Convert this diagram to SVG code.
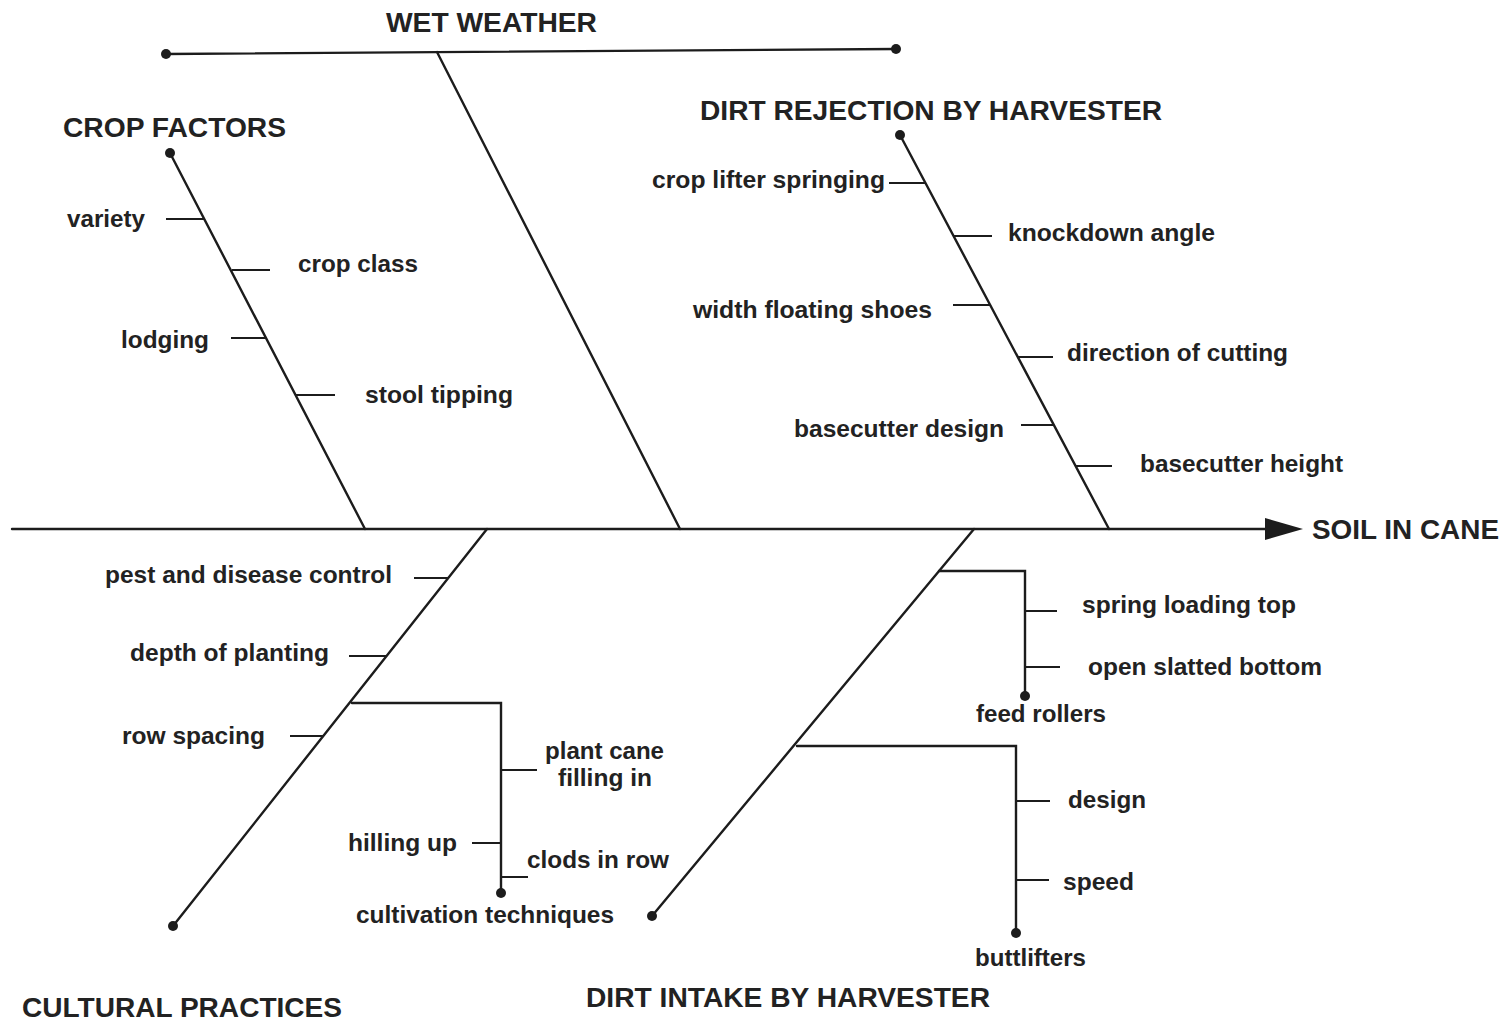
<svg xmlns="http://www.w3.org/2000/svg" width="1506" height="1024" viewBox="0 0 1506 1024">
<style>
.ln{stroke:#1c1c1c;stroke-width:2.4;fill:none;stroke-linecap:round}
.tk{stroke:#1c1c1c;stroke-width:2;fill:none}
.dot{fill:#1c1c1c}
.t{font-family:"Liberation Sans",Arial,sans-serif;font-weight:bold;fill:#222;font-size:24px}
.h{font-family:"Liberation Sans",Arial,sans-serif;font-weight:bold;fill:#222;font-size:27px}
</style>
<rect width="1506" height="1024" fill="#fff"/>
<g id="connectors">
  <line class="ln" x1="12" y1="529" x2="1268" y2="529"/>
  <polygon class="dot" points="1265,518 1303,529 1265,540"/>
</g>
<g id="soil-in-cane">
  <text class="h" x="1312" y="539" textLength="187" lengthAdjust="spacingAndGlyphs">SOIL IN CANE</text>
</g>
<g id="wet-weather">
  <line class="ln" x1="166" y1="54" x2="896" y2="49"/>
  <circle class="dot" cx="166" cy="54" r="5"/>
  <circle class="dot" cx="896" cy="49" r="5"/>
  <line class="ln" x1="437" y1="52" x2="680" y2="529"/>
  <text class="h" x="386" y="32" textLength="211" lengthAdjust="spacingAndGlyphs">WET WEATHER</text>
</g>
<g id="crop-factors">
  <line class="ln" x1="170" y1="153" x2="365" y2="529"/>
  <circle class="dot" cx="170" cy="153" r="5"/>
  <text class="h" x="63" y="137" textLength="223" lengthAdjust="spacingAndGlyphs">CROP FACTORS</text>
  <line class="tk" x1="166" y1="219" x2="204" y2="219"/>
  <text class="t" x="67" y="227" textLength="78" lengthAdjust="spacingAndGlyphs">variety</text>
  <line class="tk" x1="232" y1="270" x2="270" y2="270"/>
  <text class="t" x="298" y="272" textLength="120" lengthAdjust="spacingAndGlyphs">crop class</text>
  <line class="tk" x1="231" y1="338" x2="266" y2="338"/>
  <text class="t" x="121" y="348" textLength="88" lengthAdjust="spacingAndGlyphs">lodging</text>
  <line class="tk" x1="296" y1="395" x2="335" y2="395"/>
  <text class="t" x="365" y="403" textLength="148" lengthAdjust="spacingAndGlyphs">stool tipping</text>
</g>
<g id="dirt-rejection">
  <line class="ln" x1="900" y1="135" x2="1109" y2="529"/>
  <circle class="dot" cx="900" cy="135" r="5"/>
  <text class="h" x="700" y="120" textLength="462" lengthAdjust="spacingAndGlyphs">DIRT REJECTION BY HARVESTER</text>
  <line class="tk" x1="889" y1="183" x2="925" y2="183"/>
  <text class="t" x="652" y="188" textLength="233" lengthAdjust="spacingAndGlyphs">crop lifter springing</text>
  <line class="tk" x1="954" y1="236" x2="992" y2="236"/>
  <text class="t" x="1008" y="241" textLength="207" lengthAdjust="spacingAndGlyphs">knockdown angle</text>
  <line class="tk" x1="953" y1="305" x2="990" y2="305"/>
  <text class="t" x="693" y="318" textLength="239" lengthAdjust="spacingAndGlyphs">width floating shoes</text>
  <line class="tk" x1="1018" y1="357" x2="1053" y2="357"/>
  <text class="t" x="1067" y="361" textLength="221" lengthAdjust="spacingAndGlyphs">direction of cutting</text>
  <line class="tk" x1="1021" y1="425" x2="1054" y2="425"/>
  <text class="t" x="794" y="437" textLength="210" lengthAdjust="spacingAndGlyphs">basecutter design</text>
  <line class="tk" x1="1076" y1="466" x2="1112" y2="466"/>
  <text class="t" x="1140" y="472" textLength="203" lengthAdjust="spacingAndGlyphs">basecutter height</text>
</g>
<g id="cultural-practices">
  <line class="ln" x1="487" y1="529" x2="173" y2="926"/>
  <circle class="dot" cx="173" cy="926" r="5"/>
  <text class="h" x="22" y="1017" textLength="320" lengthAdjust="spacingAndGlyphs">CULTURAL PRACTICES</text>
  <line class="tk" x1="414" y1="578" x2="449" y2="578"/>
  <text class="t" x="105" y="583" textLength="287" lengthAdjust="spacingAndGlyphs">pest and disease control</text>
  <line class="tk" x1="349" y1="656" x2="387" y2="656"/>
  <text class="t" x="130" y="661" textLength="199" lengthAdjust="spacingAndGlyphs">depth of planting</text>
  <line class="tk" x1="290" y1="736" x2="324" y2="736"/>
  <text class="t" x="122" y="744" textLength="143" lengthAdjust="spacingAndGlyphs">row spacing</text>
</g>
<g id="cultivation-techniques">
  <polyline class="ln" points="352,703 501,703 501,893"/>
  <circle class="dot" cx="501" cy="893" r="5"/>
  <text class="t" x="356" y="923" textLength="258" lengthAdjust="spacingAndGlyphs">cultivation techniques</text>
  <line class="tk" x1="501" y1="770" x2="537" y2="770"/>
  <text class="t" x="545" y="759" textLength="119" lengthAdjust="spacingAndGlyphs">plant cane</text>
  <text class="t" x="558" y="786" textLength="94" lengthAdjust="spacingAndGlyphs">filling in</text>
  <line class="tk" x1="472" y1="843" x2="501" y2="843"/>
  <text class="t" x="348" y="851" textLength="109" lengthAdjust="spacingAndGlyphs">hilling up</text>
  <line class="tk" x1="501" y1="877" x2="528" y2="877"/>
  <text class="t" x="527" y="868" textLength="142" lengthAdjust="spacingAndGlyphs">clods in row</text>
</g>
<g id="dirt-intake">
  <line class="ln" x1="974" y1="529" x2="652" y2="916"/>
  <circle class="dot" cx="652" cy="916" r="5"/>
  <text class="h" x="586" y="1007" textLength="404" lengthAdjust="spacingAndGlyphs">DIRT INTAKE BY HARVESTER</text>
</g>
<g id="feed-rollers">
  <polyline class="ln" points="939,571 1025,571 1025,696"/>
  <circle class="dot" cx="1025" cy="696" r="5"/>
  <text class="t" x="976" y="722" textLength="130" lengthAdjust="spacingAndGlyphs">feed rollers</text>
  <line class="tk" x1="1025" y1="611" x2="1057" y2="611"/>
  <text class="t" x="1082" y="613" textLength="214" lengthAdjust="spacingAndGlyphs">spring loading top</text>
  <line class="tk" x1="1025" y1="667" x2="1060" y2="667"/>
  <text class="t" x="1088" y="675" textLength="234" lengthAdjust="spacingAndGlyphs">open slatted bottom</text>
</g>
<g id="buttlifters">
  <polyline class="ln" points="797,746 1016,746 1016,933"/>
  <circle class="dot" cx="1016" cy="933" r="5"/>
  <text class="t" x="975" y="966" textLength="111" lengthAdjust="spacingAndGlyphs">buttlifters</text>
  <line class="tk" x1="1016" y1="801" x2="1050" y2="801"/>
  <text class="t" x="1068" y="808" textLength="78" lengthAdjust="spacingAndGlyphs">design</text>
  <line class="tk" x1="1016" y1="880" x2="1049" y2="880"/>
  <text class="t" x="1063" y="890" textLength="71" lengthAdjust="spacingAndGlyphs">speed</text>
</g>
</svg>
